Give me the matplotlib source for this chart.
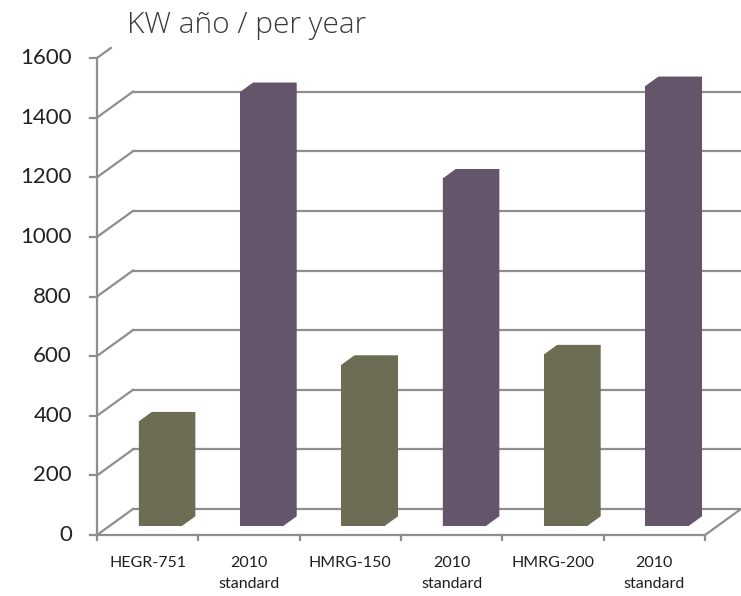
import numpy as np
import matplotlib.pyplot as plt

plt.rcParams['font.family'] = ['Lato', 'DejaVu Sans']

categories = ['HEGR-751', '2010\nstandard', 'HMRG-150', '2010\nstandard', 'HMRG-200', '2010\nstandard']
values = [350, 1455, 540, 1165, 575, 1475]
bar_colors = ['#6d6d55', '#64556b', '#6d6d55', '#64556b', '#6d6d55', '#64556b']
yticks = [0, 200, 400, 600, 800, 1000, 1200, 1400, 1600]
title = 'KW año / per year'

W, H = 741, 596
fig = plt.figure(figsize=(W / 100, H / 100), dpi=100)
ax = fig.add_axes([0, 0, 1, 1])

# map data units onto the picture: x in categories, y in kW
x0_px, cat_px = 97, 101.33
y0_px, unit_px = 535, 477 / 1600
ax.set_xlim(-x0_px / cat_px, (W - x0_px) / cat_px)
ax.set_ylim(-(H - y0_px) / unit_px, y0_px / unit_px)
ax.axis('off')

# oblique depth of the 3d box
DX = 36 / cat_px
DY = 26 / unit_px
n = len(categories)
grid = '#8e8e8e'
top_clip = (y0_px - 48) / unit_px

for v in yticks:
    d_end = min(1, (top_clip - v) / DY)
    ax.plot([0, d_end * DX], [v, v + d_end * DY], color=grid, lw=1.6)
    if v + DY <= top_clip:
        ax.plot([DX, n + DX], [v + DY, v + DY], color=grid, lw=1.6)
    ax.plot([-7 / cat_px, 0], [v, v], color=grid, lw=1.6)
    ax.text(-25 / cat_px, v, str(v), ha='right', va='center', fontsize=16, color='#222222')

ax.plot([0, 0], [0, 1600], color=grid, lw=1.6)
ax.plot([0, n], [0, 0], color=grid, lw=1.6)
ax.plot([n, n + DX], [0, DY], color=grid, lw=1.6)
for i in range(n + 1):
    ax.plot([i, i], [0, -5 / unit_px], color=grid, lw=1.6)

for i, c in enumerate(categories):
    ax.text(i + 0.5, -21 / unit_px, c, ha='center', va='top', fontsize=11.5,
            linespacing=1.65, color='#1e1e1e')

# bars: front face, then one outline polygon so side and top join without seams
df, dd = 0.36, 0.36
bw = 0.43
xs = np.arange(n) + 0.5 + df * DX
bars = ax.bar(xs, values, width=bw, bottom=df * DY, color=bar_colors, zorder=3)
ox, oy = dd * DX, dd * DY
for b, c in zip(bars, bar_colors):
    xl, xr = b.get_x(), b.get_x() + b.get_width()
    yb, yt = b.get_y(), b.get_y() + b.get_height()
    ax.fill([xl, xr, xr + ox, xr + ox, xl + ox, xl],
            [yb, yb, yb + oy, yt + oy, yt + oy, yt], color=c, lw=0, zorder=3.5)

fig.text(127 / W, 1 - 25 / H, title, ha='left', va='center', fontsize=21.5,
         family=['Open Sans', 'DejaVu Sans'], weight='light', color='#3a3a3a')

fig.savefig('out.png', dpi=100)
